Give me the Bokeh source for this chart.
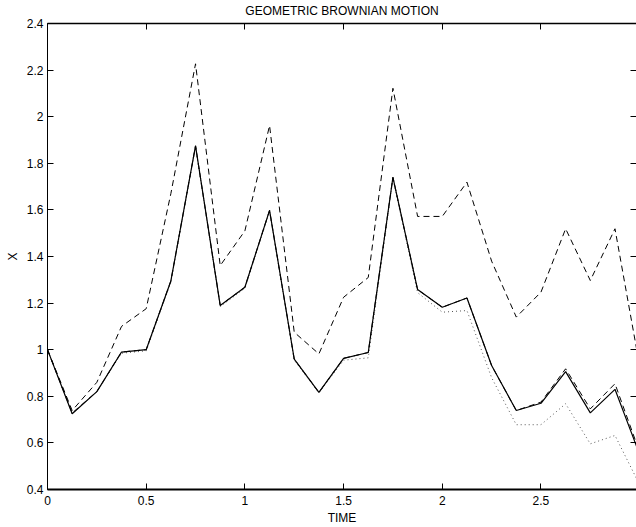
from bokeh.plotting import figure
from bokeh.models import LinearAxis, FixedTicker, Range1d
from bokeh.embed import file_html
from bokeh.resources import INLINE

# ---- data ----
time = [0.0, 0.125, 0.25, 0.375, 0.5, 0.625, 0.75, 0.875, 1.0, 1.125, 1.25, 1.375,
        1.5, 1.625, 1.75, 1.875, 2.0, 2.125, 2.25, 2.375, 2.5, 2.625, 2.75, 2.875, 3.0]

exact = [1.00, 0.725, 0.82, 0.99, 1.00, 1.295, 1.875, 1.19, 1.268, 1.598, 0.96, 0.817,
         0.963, 0.988, 1.74, 1.258, 1.182, 1.222, 0.932, 0.739, 0.77, 0.906, 0.729, 0.83, 0.55]

upper_dashed = [1.00, 0.739, 0.86, 1.10, 1.176, 1.67, 2.227, 1.361, 1.51, 1.962, 1.075, 0.982,
                1.225, 1.31, 2.122, 1.572, 1.572, 1.719, 1.38, 1.14, 1.247, 1.519, 1.297, 1.519, 0.93]

near_dashed = [1.00, 0.728, 0.82, 0.99, 1.00, 1.295, 1.875, 1.19, 1.268, 1.598, 0.96, 0.817,
               0.963, 0.988, 1.74, 1.258, 1.182, 1.222, 0.932, 0.739, 0.775, 0.918, 0.746, 0.854, 0.56]

dotted = [1.00, 0.725, 0.82, 0.985, 0.995, 1.29, 1.87, 1.185, 1.263, 1.593, 0.955, 0.815,
          0.955, 0.965, 1.735, 1.245, 1.161, 1.168, 0.88, 0.678, 0.678, 0.768, 0.596, 0.632, 0.42]

x_ticks = [0.0, 0.5, 1.0, 1.5, 2.0, 2.5, 3.0]
x_tick_labels = ["0", "0.5", "1", "1.5", "2", "2.5", "3"]
y_ticks = [0.4, 0.6, 0.8, 1.0, 1.2, 1.4, 1.6, 1.8, 2.0, 2.2, 2.4]
y_tick_labels = ["0.4", "0.6", "0.8", "1", "1.2", "1.4", "1.6", "1.8", "2", "2.2", "2.4"]

title_text = "GEOMETRIC BROWNIAN MOTION"

FONT = "Liberation Sans"

p = figure(width=636, height=527,
           x_range=Range1d(0, 2.984), y_range=Range1d(0.4, 2.4),
           output_backend="svg", toolbar_location=None,
           min_border_left=47, min_border_right=0, min_border_top=23, min_border_bottom=38,
           title=title_text)
p.grid.visible = False
p.outline_line_color = None
p.background_fill_color = "white"
p.border_fill_color = "white"

p.title.align = "center"
p.title.vertical_align = "top"
p.title.text_font = FONT
p.title.text_font_size = "12px"
p.title.text_font_style = "normal"
p.title.text_color = "black"
p.title.standoff = 7
p.title.offset = 0

for ax in (p.xaxis[0], p.yaxis[0]):
    ax.major_tick_in = 6
    ax.major_tick_out = 0
    ax.minor_tick_line_color = None
    ax.major_label_text_font = FONT
    ax.major_label_text_font_size = "12px"
    ax.major_label_text_color = "black"
    ax.axis_label_text_font = FONT
    ax.axis_label_text_font_size = "12px"
    ax.axis_label_text_font_style = "normal"
    ax.axis_label_text_color = "black"
    ax.axis_line_color = "black"
    ax.major_tick_line_color = "black"

p.xaxis[0].ticker = FixedTicker(ticks=x_ticks)
p.xaxis[0].major_label_overrides = dict(zip(x_ticks, x_tick_labels))
p.xaxis[0].axis_label = "TIME"
p.xaxis[0].major_label_standoff = 6
p.xaxis[0].axis_label_standoff = 3
p.xaxis[0].axis_line_width = 2

p.yaxis[0].ticker = FixedTicker(ticks=y_ticks)
p.yaxis[0].major_label_overrides = dict(zip(y_ticks, y_tick_labels))
p.yaxis[0].axis_label = "X"
p.yaxis[0].major_label_standoff = 4
p.yaxis[0].axis_label_standoff = 4
p.yaxis[0].axis_line_width = 1

top = LinearAxis(ticker=FixedTicker(ticks=x_ticks), major_label_text_font_size="0px",
                 major_label_text_color=None,
                 major_label_standoff=0, major_tick_in=6, major_tick_out=0,
                 minor_tick_line_color=None, axis_line_width=1.5, axis_line_color="black")
p.add_layout(top, "above")

right = LinearAxis(ticker=FixedTicker(ticks=y_ticks), major_label_text_font_size="0px",
                   major_label_text_color=None,
                   major_label_standoff=0, major_tick_in=6, major_tick_out=0,
                   minor_tick_line_color=None, axis_line_color=None)
p.add_layout(right, "right")

p.line(time, dotted, line_color="#555555", line_width=1, line_dash="1 3")
p.line(time, near_dashed, line_color="black", line_width=1, line_dash="6 4")
p.line(time, exact, line_color="black", line_width=1.2)
p.line(time, upper_dashed, line_color="black", line_width=1, line_dash="6 4")

open("out.html", "w").write(file_html(p, INLINE))
